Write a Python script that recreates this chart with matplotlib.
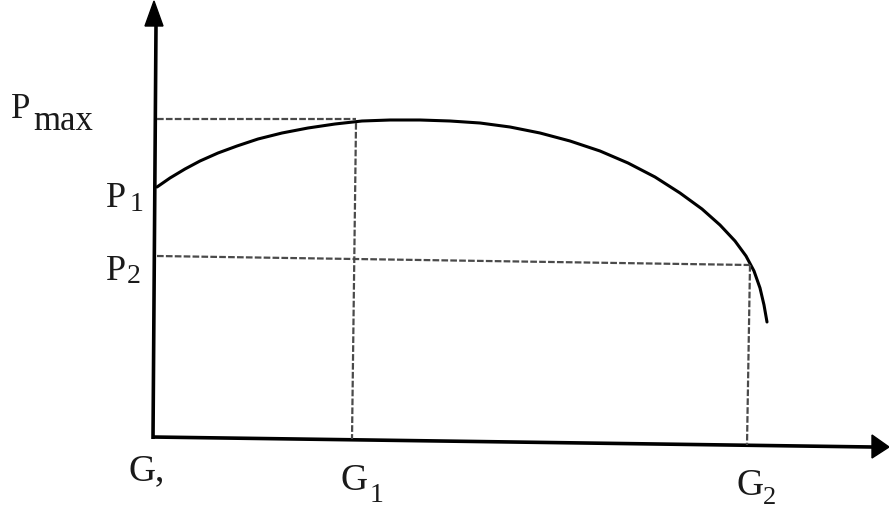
import matplotlib
matplotlib.use("Agg")
import matplotlib.pyplot as plt
from matplotlib.patches import Polygon

# Power curve P(G), sampled along the drawn arc (x, y in drawing units, y downward)
curve_x = [157, 170, 185, 200, 218, 237, 258, 282, 308, 335, 362, 390, 420, 450, 480, 510,
           540, 570, 600, 628, 655, 680, 702, 720, 735, 746, 754, 760, 764, 767]
curve_y = [188, 179, 170, 162, 154, 147, 140, 134, 129, 125, 122, 121, 121, 122, 124, 128,
           134, 142, 152, 164, 178, 194, 210, 226, 242, 257, 272, 289, 306, 323]

# Reference levels and operating points
P_max_y = 120
P2_left_y, P2_right_y = 257, 266
G1_top_x, G1_bot_x = 356, 352
G2_top_x, G2_bot_x = 750, 747

# Axes endpoints
y_axis = ([156, 153], [26, 440])
x_axis = ([152, 872], [438, 448])

fig = plt.figure(figsize=(8.89, 5.10), dpi=100)
ax = fig.add_axes([0, 0, 1, 1])
ax.set_xlim(0, 889)
ax.set_ylim(510, 0)
ax.axis("off")

axis_kw = dict(color="black", lw=2.6, solid_capstyle="butt")
ax.plot(*y_axis, **axis_kw)
ax.plot(*x_axis, **axis_kw)

# arrow heads
ax.add_patch(Polygon([[145, 27], [163, 27], [154, 2]], closed=True, color="black"))
ax.add_patch(Polygon([[872, 436], [872, 459], [889, 448]], closed=True, color="black"))

# the curve
ax.plot(curve_x, curve_y, color="black", lw=2.2, solid_capstyle="round", solid_joinstyle="round")

# dashed guide lines
dash_kw = dict(color="#4a4a4a", lw=1.6, linestyle=(0, (3, 1.0)))
ax.plot([157, G1_top_x], [P_max_y, P_max_y], **dash_kw)
ax.plot([G1_top_x, G1_bot_x], [124, 440], **dash_kw)
ax.plot([157, G2_top_x], [P2_left_y, P2_right_y], **dash_kw)
ax.plot([G2_top_x, G2_bot_x], [266, 446], **dash_kw)

serif = ["Liberation Serif", "DejaVu Serif"]
ink = "#1a1a1a"


def label(x, y, base, size, sub="", sub_x=0, sub_y=0, sub_size=20):
    ax.text(x, y, base, fontsize=size, family=serif, ha="left", va="baseline", color=ink)
    if sub:
        ax.text(sub_x, sub_y, sub, fontsize=sub_size, family=serif,
                ha="left", va="baseline", color=ink)


label(11, 118, "P", 25, "max", 33, 130, sub_size=25)
label(106, 207, "P", 26, "1", 130, 211)
label(106, 280, "P", 26, "2", 127, 283)
label(128, 480, "G,", 27)
label(340, 490, "G", 27, "1", 370, 502)
label(736, 495, "G", 27, "2", 763, 504, sub_size=19)

fig.savefig("out.png", dpi=100, facecolor="white")
